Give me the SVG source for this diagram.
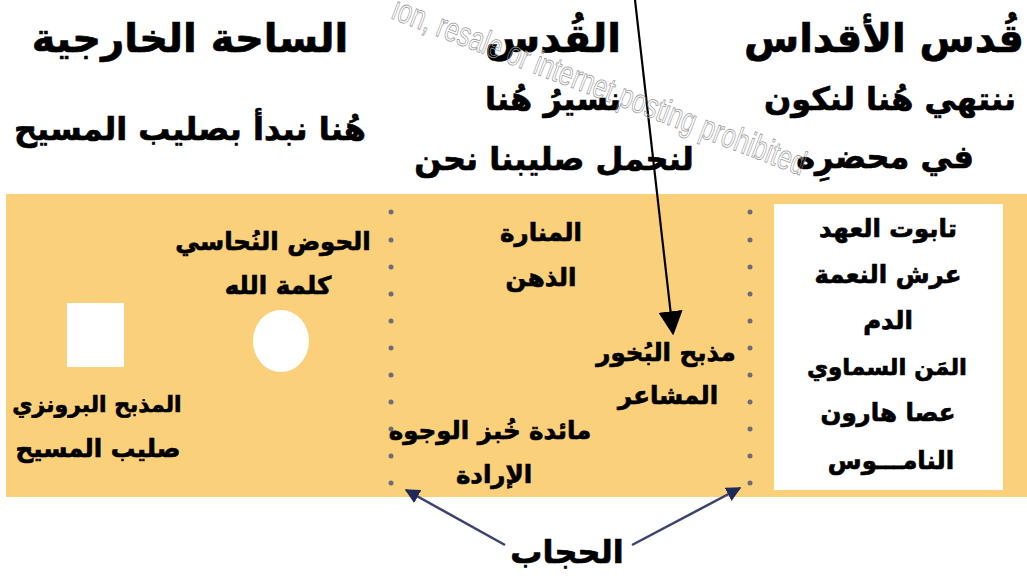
<svg xmlns="http://www.w3.org/2000/svg" width="1027" height="578" viewBox="0 0 1027 578">
<defs>
<style>
.t{font-family:"DejaVu Sans",sans-serif;font-weight:bold;fill:#000;stroke:#000;stroke-width:0.7;text-anchor:middle}
.h{font-size:40px}
.s{font-size:32px}
.b{font-size:24.5px}
.dot{fill:#6b6b7a}
.wm{font-family:"Liberation Sans",sans-serif;font-size:34px;fill:none;stroke:#9a9a9a;stroke-width:0.8}
</style>
<marker id="ah" viewBox="0 0 10 10" refX="9" refY="5" markerWidth="11" markerHeight="11" orient="auto" markerUnits="strokeWidth">
<path d="M0,0 L10,5 L0,10 z" fill="#000"/>
</marker>
<marker id="an" viewBox="0 0 10 10" refX="9" refY="5" markerWidth="6" markerHeight="6" orient="auto" markerUnits="strokeWidth">
<path d="M0,0 L10,5 L0,10 z" fill="#1f2a5a"/>
</marker>
</defs>
<rect x="0" y="0" width="1027" height="578" fill="#fff"/>
<g id="band"><rect x="6" y="194" width="1021" height="303" fill="#FBD07A"/></g>
<g id="holiest-box"><rect x="774" y="204" width="229" height="286" fill="#fff"/></g>
<g id="altar-square"><rect x="67" y="303" width="57" height="64" fill="#fff"/></g>
<g id="laver-circle"><ellipse cx="281" cy="341" rx="28" ry="31" fill="#fff"/></g>
<g id="veil-left">
<circle class="dot" cx="391" cy="212" r="2.5"/><circle class="dot" cx="391" cy="240" r="2.5"/><circle class="dot" cx="391" cy="267" r="2.5"/><circle class="dot" cx="391" cy="294" r="2.5"/><circle class="dot" cx="391" cy="321" r="2.5"/><circle class="dot" cx="391" cy="348" r="2.5"/><circle class="dot" cx="391" cy="375" r="2.5"/><circle class="dot" cx="391" cy="402" r="2.5"/><circle class="dot" cx="391" cy="429" r="2.5"/><circle class="dot" cx="391" cy="456" r="2.5"/><circle class="dot" cx="391" cy="483" r="2.5"/>
</g>
<g id="veil-right">
<circle class="dot" cx="750" cy="212" r="2.5"/><circle class="dot" cx="750" cy="240" r="2.5"/><circle class="dot" cx="750" cy="267" r="2.5"/><circle class="dot" cx="750" cy="294" r="2.5"/><circle class="dot" cx="750" cy="321" r="2.5"/><circle class="dot" cx="750" cy="348" r="2.5"/><circle class="dot" cx="750" cy="375" r="2.5"/><circle class="dot" cx="750" cy="402" r="2.5"/><circle class="dot" cx="750" cy="429" r="2.5"/><circle class="dot" cx="750" cy="456" r="2.5"/><circle class="dot" cx="750" cy="483" r="2.5"/>
</g>
<g id="headings">
<text class="t h" x="884" y="52">قُدس الأقداس</text>
<text class="t h" x="553" y="52">القُدس</text>
<text class="t h" x="190" y="52">الساحة الخارجية</text>
</g>
<g id="subtitles">
<text class="t s" x="890" y="110">ننتهي هُنا لنكون</text>
<text class="t s" x="885" y="168">في محضرِه</text>
<text class="t s" x="553" y="110">نسيرُ هُنا</text>
<text class="t s" x="554" y="170">لنحمل صليبنا نحن</text>
<text class="t s" x="190" y="140">هُنا نبدأ بصليب المسيح</text>
</g>
<g id="laver">
<text class="t b" x="273" y="250">الحوض النُحاسي</text>
<text class="t b" x="278" y="294">كلمة الله</text>
</g>
<g id="bronze-altar">
<text class="t b" x="97" y="412" style="font-size:22px">المذبح البرونزي</text>
<text class="t b" x="98" y="457">صليب المسيح</text>
</g>
<g id="lampstand">
<text class="t b" x="541" y="241">المنارة</text>
<text class="t b" x="541" y="286">الذهن</text>
</g>
<g id="incense-altar">
<text class="t b" x="666" y="361">مذبح البُخور</text>
<text class="t b" x="668" y="404">المشاعر</text>
</g>
<g id="showbread">
<text class="t b" x="490" y="439">مائدة خُبز الوجوه</text>
<text class="t b" x="494" y="483">الإرادة</text>
</g>
<g id="ark">
<text class="t b" x="888" y="237">تابوت العهد</text>
<text class="t b" x="888" y="283">عرش النعمة</text>
<text class="t b" x="888" y="329">الدم</text>
<text class="t b" x="887" y="375" style="font-size:23px">المَن السماوي</text>
<text class="t b" x="888" y="421">عصا هارون</text>
<text class="t b" x="891" y="469">النامـــوس</text>
</g>
<g id="veil-label"><text class="t s" x="567" y="563">الحجاب</text></g>
<g id="connectors">
<line x1="635" y1="0" x2="673" y2="333" stroke="#000" stroke-width="2.2" marker-end="url(#ah)"/>
<line x1="505" y1="545" x2="406" y2="490" stroke="#3b4270" stroke-width="2.5" marker-end="url(#an)"/>
<line x1="632" y1="545" x2="740" y2="488" stroke="#3b4270" stroke-width="2.5" marker-end="url(#an)"/>
</g>
<g id="watermark"><text class="wm" transform="translate(390,18) rotate(21)" textLength="440" lengthAdjust="spacingAndGlyphs">ion, resale or internet posting prohibited</text></g>
</svg>
